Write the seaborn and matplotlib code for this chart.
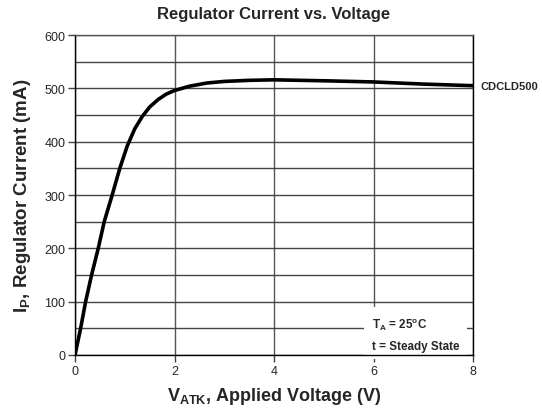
import pandas as pd
import matplotlib.pyplot as plt
import seaborn as sns

# Regulator current vs applied voltage
voltage = [0, 0.113, 0.213, 0.333, 0.467, 0.587, 0.747, 0.9, 1.05, 1.2, 1.35, 1.5, 1.67, 1.83, 2.0, 2.3, 2.65, 3.0, 3.5, 4.0, 5.1, 6.0, 7.0, 8.0]
current = [0, 50, 100, 150, 200, 250, 300, 350, 392, 424, 447, 465, 479, 489, 496, 504, 510, 513, 515, 516, 514, 512, 508, 505]
series_label = "CDCLD500"

df = pd.DataFrame({"V": voltage, "I": current})

sns.set_style("white")
plt.rcParams['font.family'] = ['Liberation Sans', 'DejaVu Sans']
plt.rcParams['mathtext.fontset'] = 'custom'
plt.rcParams['mathtext.rm'] = 'Liberation Sans:bold'
plt.rcParams['mathtext.it'] = 'Liberation Sans:bold'
plt.rcParams['mathtext.bf'] = 'Liberation Sans:bold'

fig = plt.figure(figsize=(5.42, 4.14), dpi=100)
ax = fig.add_axes([0.1384, 0.1401, 0.7343, 0.7729])

sns.lineplot(data=df, x="V", y="I", color="black", linewidth=2.6, ax=ax)

ax.set_xlim(0, 8)
ax.set_ylim(0, 600)
ax.set_xticks([0, 2, 4, 6, 8])
ax.set_yticks(range(0, 601, 100))
ax.set_yticks(range(50, 600, 100), minor=True)
ax.grid(True, which="both", axis="y", color="#444444", linewidth=1)
ax.grid(True, which="major", axis="x", color="#555555", linewidth=1)
ax.set_axisbelow(True)
ax.tick_params(axis="both", which="major", direction="out", length=5, width=1,
               color="#444444", labelsize=9, pad=2, left=True, bottom=True)
ax.tick_params(axis="y", which="minor", length=0)
for s in ax.spines.values():
    s.set_color("black")
    s.set_linewidth(1)
ax.spines["top"].set_color("#555555")

ax.set_title("Regulator Current vs. Voltage", fontsize=12, fontweight="bold", pad=12)
ax.set_xlabel(r"$\mathregular{V_{ATK}}$, Applied Voltage (V)", fontsize=13, fontweight="bold", labelpad=6)
ax.set_ylabel(r"$\mathregular{I_P}$, Regulator Current (mA)", fontsize=13.5, fontweight="bold", labelpad=8)

# series label at the right end of the curve
ax.text(8.15, current[-1], series_label, fontsize=8, fontweight="bold", va="center", ha="left", clip_on=False)

# conditions box covering the grid (kept under the spines)
ax.text(5.96, 40, r"$\mathregular{T_A}$ = 25$\mathregular{^o}$C" + "\nt = Steady State",
        fontsize=8.4, fontweight="bold", va="center", ha="left", linespacing=1.9, zorder=2,
        bbox=dict(facecolor="white", edgecolor="none", boxstyle="square,pad=0.65"))

fig.savefig("out.png", dpi=100)
